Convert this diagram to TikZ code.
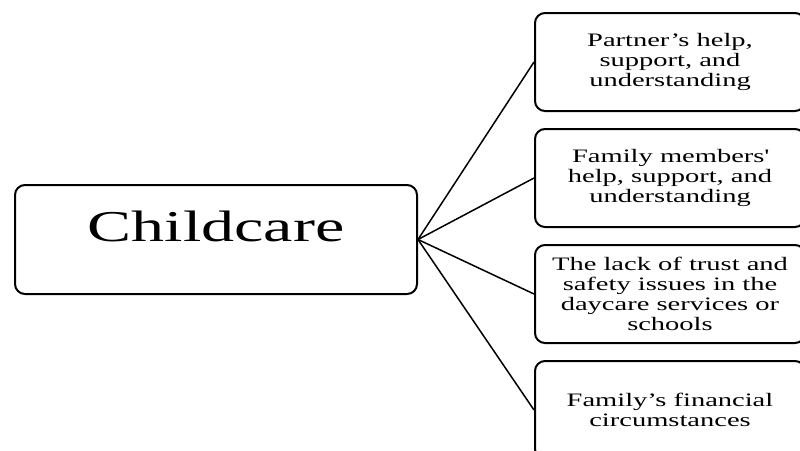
\documentclass[tikz,border=0pt]{standalone}
\usepackage{fontspec}
\setmainfont{Liberation Serif}[FakeStretch=1.5]
\usetikzlibrary{positioning}
\tikzset{
  box/.style={draw, line width=2pt, rounded corners=10pt, align=center, inner sep=0pt},
  topic/.style={box, minimum width=402pt, minimum height=109pt, text height=30pt, text depth=26pt, font=\fontsize{44}{48}\selectfont},
  item/.style={box, minimum width=270pt, minimum height=98pt, font=\fontsize{19}{20}\selectfont},
  link/.style={line width=1.5pt},
}
\begin{document}
\begin{tikzpicture}[x=1pt, y=-1pt, node distance=16pt]
\useasboundingbox (0,0) rectangle (800,450);
\clip (0,0) rectangle (800,450);
\node[topic] (care) at (216,239.5) {Childcare};
\node[item] (partner) at (670,62) {Partner’s help,\\support, and\\understanding};
\node[item, below=of partner] (family) {Family members\textquotesingle\\help, support, and\\understanding};
\node[item, below=of family] (trust) {The lack of trust and\\safety issues in the\\daycare services or\\schools};
\node[item, below=of trust] (money) {Family’s financial\\circumstances};
% spokes
\draw[link] (care.east) -- (partner.west);
\draw[link] (care.east) -- (family.west);
\draw[link] (care.east) -- (trust.west);
\draw[link] (care.east) -- (money.west);
\end{tikzpicture}
\end{document}
